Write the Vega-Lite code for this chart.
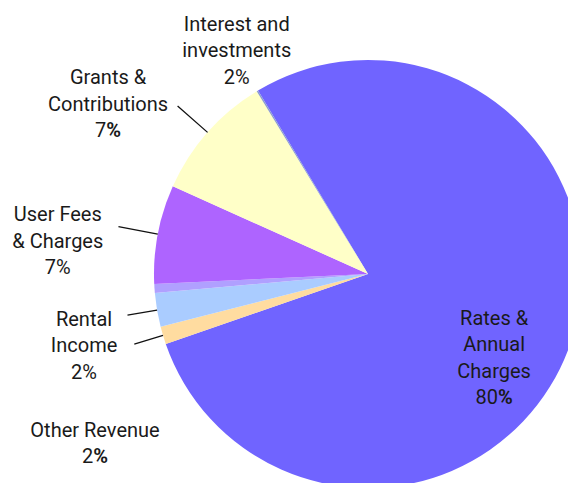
{
  "$schema": "https://vega.github.io/schema/vega-lite/v6.json",
  "width": 400,
  "height": 418,
  "autosize": {"type": "none"},
  "padding": {"left": 168, "top": 65, "right": 0, "bottom": 0},
  "background": "white",
  "config": {"view": {"stroke": null}},
  "data": {
    "values": [
      {"rank": 1, "category": "Rates & Annual Charges", "pct": 78.289, "lines": ["Rates &", "Annual", "Charges"], "num": "80", "sign": "%"},
      {"rank": 2, "category": "Other Revenue", "pct": 1.333, "lines": ["Other Revenue"], "num": "2", "sign": "%"},
      {"rank": 3, "category": "Rental Income", "pct": 2.556, "lines": ["Rental", "Income"], "num": "2", "sign": "%"},
      {"rank": 4, "category": "Other Income", "pct": 0.667, "lines": "", "num": "", "sign": ""},
      {"rank": 5, "category": "User Fees & Charges", "pct": 7.472, "lines": ["User Fees", "& Charges"], "num": "7", "sign": "%"},
      {"rank": 6, "category": "Grants & Contributions", "pct": 9.572, "lines": ["Grants &", "Contributions"], "num": "7", "sign": "%"},
      {"rank": 7, "category": "Interest and investments", "pct": 0.111, "lines": ["Interest and", "investments"], "num": "2", "sign": "%"}
    ]
  },
  "encoding": {
    "theta": {"field": "pct", "type": "quantitative", "stack": true, "scale": {"domain": [0, 100], "range": [5.7433, 12.0265]}},
    "order": {"field": "rank", "type": "quantitative"},
    "detail": {"field": "category", "type": "nominal"}
  },
  "layer": [
    {
      "mark": {"type": "arc", "radius": 214},
      "encoding": {
        "color": {
          "field": "category",
          "type": "nominal",
          "scale": {
            "domain": ["Rates & Annual Charges", "Other Revenue", "Rental Income", "Other Income", "User Fees & Charges", "Grants & Contributions", "Interest and investments"],
            "range": ["#7064FF", "#FFDCA0", "#AACCFF", "#B0A0FF", "#AE64FF", "#FFFFC8", "#8A9AD0"]
          },
          "legend": null
        }
      }
    },
    {
      "mark": {
        "type": "arc",
        "radius": {"expr": "[214,244,244,214,254,254,214][datum.rank-1]"},
        "radius2": 214,
        "padAngle": 1.2,
        "fill": null,
        "fillOpacity": 0,
        "stroke": "#111111",
        "strokeWidth": 1.3,
        "strokeOpacity": {"expr": "[0,1,1,0,1,1,0][datum.rank-1]"}
      },
      "encoding": {}
    },
    {
      "mark": {
        "type": "text",
        "radius": 214,
        "font": "Roboto",
        "fontSize": 20,
        "lineHeight": 26.5,
        "align": "center",
        "baseline": "middle",
        "color": "#1a1a1a",
        "dx": {"expr": "[-75,-68,-73,0,-100,-99.5,-20.6][datum.rank-1]"},
        "dy": {"expr": "[-28.4,95.2,9.9,0,-18.6,-53.9,-66.3][datum.rank-1]"}
      },
      "encoding": {"text": {"field": "lines"}}
    },
    {
      "mark": {
        "type": "text",
        "radius": 214,
        "font": "Roboto",
        "fontSize": 20,
        "align": "right",
        "baseline": "middle",
        "color": "#1a1a1a",
        "dx": {"expr": "[-71.1,-69.7,-74.7,0,-101.7,-101.2,-22.3][datum.rank-1]"},
        "dy": {"expr": "[51.1,121.7,62.9,0,34.4,-0.9,-13.3][datum.rank-1]"}
      },
      "encoding": {"text": {"field": "num"}}
    },
    {
      "mark": {
        "type": "text",
        "radius": 214,
        "font": "Roboto",
        "fontSize": 20,
        "align": "left",
        "baseline": "middle",
        "color": "#1a1a1a",
        "fontWeight": {"expr": "[700,700,400,400,400,700,400][datum.rank-1]"},
        "dx": {"expr": "[-71.1,-69.7,-74.7,0,-101.7,-101.2,-22.3][datum.rank-1]"},
        "dy": {"expr": "[51.1,121.7,62.9,0,34.4,-0.9,-13.3][datum.rank-1]"}
      },
      "encoding": {"text": {"field": "sign"}}
    }
  ]
}
